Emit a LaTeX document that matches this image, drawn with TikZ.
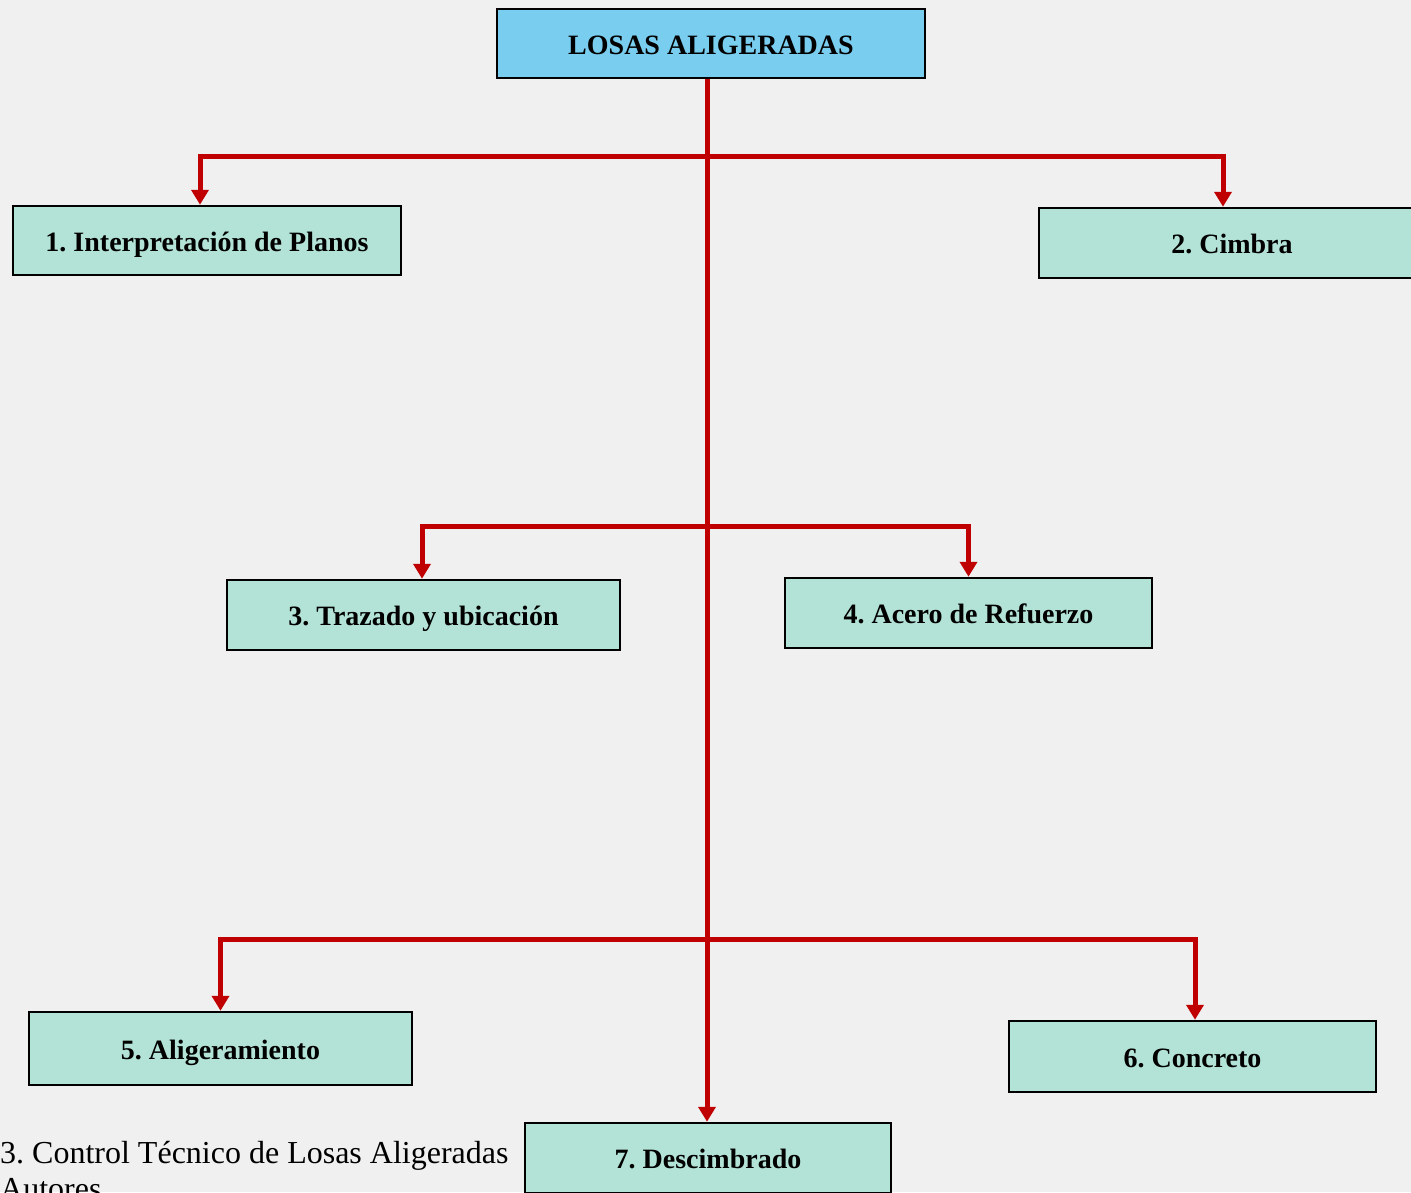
\documentclass[tikz,border=0pt]{standalone}
\usepackage{fontspec}
\setmainfont{Liberation Serif}
\usetikzlibrary{arrows.meta}
\frenchspacing
\definecolor{bgc}{HTML}{F0F0F0}
\definecolor{headfill}{HTML}{79CDEF}
\definecolor{stepfill}{HTML}{B3E3D6}
\definecolor{linkred}{HTML}{C00000}
\tikzset{
  boxbase/.style={draw=black, line width=2.5pt, rectangle, inner sep=0pt,
    text height=23pt, text depth=2pt,
    font=\fontsize{28}{32}\selectfont\bfseries},
  headbox/.style={boxbase, fill=headfill},
  stepbox/.style={boxbase, fill=stepfill},
  link/.style={draw=linkred, line width=5pt},
  linkarrow/.style={link, -{Triangle[width=17pt,length=15pt]}},
}
\begin{document}
\begin{tikzpicture}[x=1pt,y=-1pt]
  \fill[bgc] (0,0) rectangle (1411,1192);
  \clip (0,0) rectangle (1411,1192);

  % title box
  \node[headbox, minimum width=428pt, minimum height=69pt] (top) at (711,43.5) {LOSAS ALIGERADAS};

  % process steps
  \node[stepbox, minimum width=388pt, minimum height=69pt] (b1) at (207,240.5) {1. Interpretación de Planos};
  \node[stepbox, minimum width=386pt, minimum height=70pt] (b2) at (1232,243) {2. Cimbra};
  \node[stepbox, minimum width=393pt, minimum height=70pt] (b3) at (423.5,615) {3. Trazado y ubicación};
  \node[stepbox, minimum width=367pt, minimum height=70pt] (b4) at (968.5,613) {4. Acero de Refuerzo};
  \node[stepbox, minimum width=383pt, minimum height=73pt] (b5) at (220.5,1048.5) {5. Aligeramiento};
  \node[stepbox, minimum width=367pt, minimum height=71pt] (b6) at (1192.5,1056.5) {6. Concreto};
  \node[stepbox, minimum width=366pt, minimum height=70pt] (b7) at (708,1158) {7. Descimbrado};

  % junctions on the trunk
  \coordinate (j1) at (707,156);
  \coordinate (j2) at (707,526);
  \coordinate (j3) at (707,939);

  % connectors
  \draw[linkarrow] (top.south -| j1) -- (b7.north -| j1);
  \draw[linkarrow] (j1) -| ([xshift=-7pt]b1.north);
  \draw[linkarrow] (j1) -| ([xshift=-9pt]b2.north);
  \draw[linkarrow] (j2) -| ([xshift=-1.5pt]b3.north);
  \draw[linkarrow] (j2) -| (b4.north);
  \draw[linkarrow] (j3) -| (b5.north);
  \draw[linkarrow] (j3) -| ([xshift=2.5pt]b6.north);

  % caption lines
  \node[anchor=base west, inner sep=0pt, font=\fontsize{32}{36}\selectfont] (cap1) at (0,1163) {3. Control Técnico de Losas Aligeradas};
  \node[anchor=base west, inner sep=0pt, font=\fontsize{32}{36}\selectfont] (cap2) at (0,1199) {Autores};
\end{tikzpicture}
\end{document}
